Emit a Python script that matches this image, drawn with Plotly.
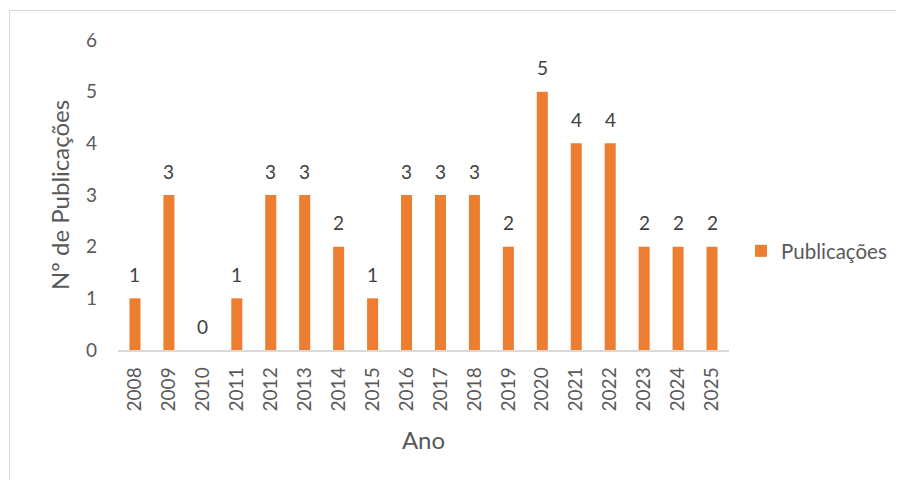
import plotly.graph_objects as go

anos = ["2008", "2009", "2010", "2011", "2012", "2013", "2014", "2015", "2016",
        "2017", "2018", "2019", "2020", "2021", "2022", "2023", "2024", "2025"]
publicacoes = [1, 3, 0, 1, 3, 3, 2, 1, 3, 3, 3, 2, 5, 4, 4, 2, 2, 2]
serie_nome = "Publicações"

FONT = "Lato"
TXT = "#595959"
BAR = "#ED7D31"

OFF = 8  # default page body margin
W, H = 904 - OFF, 480 - OFF
L = 118 - OFF
R = W - (729 - OFF)
T = 40 - OFF
B = H - (350 - OFF)
pw, ph = W - L - R, H - T - B


def px_x(p):
    return (p - OFF - L) / pw


def px_y(p):
    return (H - B - (p - OFF)) / ph


fig = go.Figure()
fig.add_trace(go.Bar(x=anos, y=publicacoes, name=serie_nome,
                     marker=dict(color=BAR, line=dict(width=0)),
                     showlegend=True))

for i, v in enumerate(publicacoes):
    fig.add_annotation(x=i, y=v, text=str(v), showarrow=False,
                       yanchor="middle", yshift=24,
                       font=dict(family=FONT, size=19, color="#404040"))

fig.add_shape(type="rect", xref="paper", yref="paper",
              x0=px_x(9.5), x1=px_x(930), y0=px_y(10.5), y1=px_y(500),
              line=dict(color="#D9D9D9", width=1), fillcolor="rgba(0,0,0,0)",
              layer="below")

fig.update_layout(
    width=W, height=H,
    margin=dict(l=L, r=R, t=T, b=B, pad=0, autoexpand=False),
    paper_bgcolor="white", plot_bgcolor="white",
    bargap=0.675,
    font=dict(family=FONT, size=19, color=TXT),
    legend=dict(x=px_x(741), y=px_y(251), xanchor="left", yanchor="middle",
                font=dict(family=FONT, size=20.5, color=TXT),
                itemsizing="constant", itemwidth=30, bgcolor="rgba(0,0,0,0)"),
    xaxis=dict(type="category", range=[-0.5, len(anos) - 0.5],
               showgrid=False, showline=True, automargin=False,
               linecolor="#D9D9D9", linewidth=1.5, ticks="",
               tickangle=-90, ticklabelstandoff=8,
               tickfont=dict(family=FONT, size=19, color=TXT),
               title=dict(text="Ano", standoff=22,
                          font=dict(family=FONT, size=24, color=TXT))),
    yaxis=dict(range=[0, 6], dtick=1, showgrid=False, zeroline=False,
               showline=False, ticks="", ticklabelstandoff=20, automargin=False,
               tickfont=dict(family=FONT, size=19, color=TXT),
               title=dict(text="Nº de Publicações", standoff=9,
                          font=dict(family=FONT, size=24, color=TXT))),
)

fig.write_html("out.html")
